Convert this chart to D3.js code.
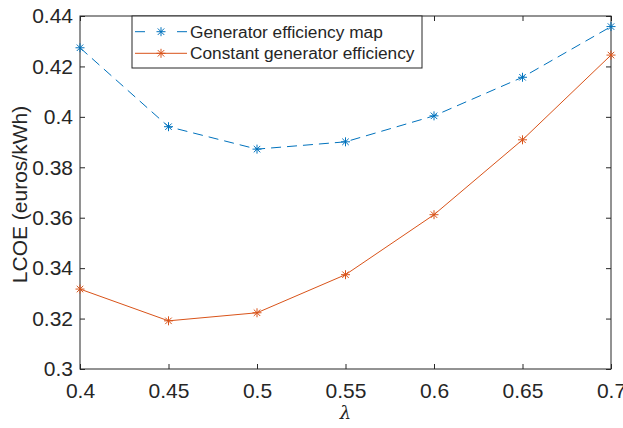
<!DOCTYPE html>
<html>
<head>
<meta charset="utf-8">
<script src="https://cdn.jsdelivr.net/npm/d3@7"></script>
<style>
  body { margin: 0; background: #fff; }
  text { font-family: "Liberation Sans", Arial, sans-serif; fill: #262626; }
</style>
</head>
<body>
<svg id="chart" width="623" height="428"></svg>
<script>
// data
var lambda = [0.4, 0.45, 0.5, 0.55, 0.6, 0.65, 0.7];
var effMap = [0.4274, 0.3961, 0.3872, 0.3901, 0.4004, 0.4157, 0.4358];
var constEff = [0.3317, 0.3191, 0.3223, 0.3374, 0.3612, 0.3909, 0.4245];
var xTicks = [0.4, 0.45, 0.5, 0.55, 0.6, 0.65, 0.7];
var yTicks = [0.3, 0.32, 0.34, 0.36, 0.38, 0.4, 0.42, 0.44];
var seriesNames = ["Generator efficiency map", "Constant generator efficiency"];

var svg = d3.select("#chart");
var margin = { top: 16, right: 12, bottom: 59, left: 80 };
var W = 623 - margin.left - margin.right,
    H = 428 - margin.top - margin.bottom;

var x = d3.scaleLinear().domain([0.4, 0.7]).range([0, W]);
var y = d3.scaleLinear().domain([0.3, 0.44]).range([H, 0]);

var g = svg.append("g")
    .attr("transform", "translate(" + margin.left + "," + margin.top + ")");

var axisColor = "#262626";
var tickLen = 5;

// ticks, inward on all four sides (box on)
function fmt(d) { return String(+d.toFixed(2)); }

g.append("g").attr("transform", "translate(0," + H + ")")
    .call(d3.axisBottom(x).tickValues(xTicks).tickSize(-tickLen).tickPadding(14).tickFormat(fmt));
g.append("g")
    .call(d3.axisTop(x).tickValues(xTicks).tickSize(-tickLen).tickFormat(""));
g.append("g")
    .call(d3.axisLeft(y).tickValues(yTicks).tickSize(-tickLen).tickPadding(7).tickFormat(fmt));
g.append("g").attr("transform", "translate(" + W + ",0)")
    .call(d3.axisRight(y).tickValues(yTicks).tickSize(-tickLen).tickFormat(""));

g.selectAll(".domain").remove();
g.selectAll(".tick line").attr("stroke", axisColor).attr("stroke-width", 1);
g.selectAll(".tick text").style("font-size", "21px").attr("fill", axisColor);

g.append("rect")
    .attr("width", W).attr("height", H)
    .attr("fill", "none").attr("stroke", axisColor).attr("stroke-width", 1);

// axis labels
svg.append("text")
    .attr("transform", "translate(27," + (margin.top + H / 2 + 2) + ") rotate(-90)")
    .attr("text-anchor", "middle")
    .style("font-size", "21px")
    .text("LCOE (euros/kWh)");

svg.append("text")
    .attr("x", margin.left + W / 2)
    .attr("y", 419)
    .attr("text-anchor", "middle")
    .style("font-size", "18px")
    .style("font-family", "'DejaVu Serif', serif")
    .style("font-style", "italic")
    .text("λ");

// asterisk marker
function asterisk(sel, cx, cy, color) {
    var r = 4.5, d = r * 0.72;
    var segs = [[-r, 0, r, 0], [0, -r, 0, r], [-d, -d, d, d], [-d, d, d, -d]];
    segs.forEach(function(s) {
        sel.append("line")
            .attr("x1", cx + s[0]).attr("y1", cy + s[1])
            .attr("x2", cx + s[2]).attr("y2", cy + s[3])
            .attr("stroke", color).attr("stroke-width", 1);
    });
}

var series = [
    { name: seriesNames[0], values: effMap, color: "#0072BD", dash: "10,6" },
    { name: seriesNames[1], values: constEff, color: "#D95319", dash: null }
];

var line = d3.line()
    .x(function(d, i) { return x(lambda[i]); })
    .y(function(d) { return y(d); });

series.forEach(function(s) {
    g.append("path")
        .datum(s.values)
        .attr("d", line)
        .attr("fill", "none")
        .attr("stroke", s.color)
        .attr("stroke-width", 1)
        .attr("stroke-dasharray", s.dash);
    var mg = g.append("g");
    s.values.forEach(function(v, i) {
        asterisk(mg, x(lambda[i]), y(v), s.color);
    });
});

// legend
var lg = svg.append("g").attr("transform", "translate(132,16)");
lg.append("rect")
    .attr("width", 290).attr("height", 52)
    .attr("fill", "#fff").attr("stroke", axisColor).attr("stroke-width", 1);

series.forEach(function(s, i) {
    var cy = 15.7 + i * 21.6;
    lg.append("line")
        .attr("x1", 3).attr("x2", 55).attr("y1", cy).attr("y2", cy)
        .attr("stroke", s.color).attr("stroke-width", 1)
        .attr("stroke-dasharray", s.dash ? "10,32,10" : null);
    asterisk(lg, 29, cy, s.color);
    lg.append("text")
        .attr("x", 58).attr("y", cy + 6)
        .style("font-size", "17.3px")
        .text(s.name);
});
</script>
</body>
</html>
